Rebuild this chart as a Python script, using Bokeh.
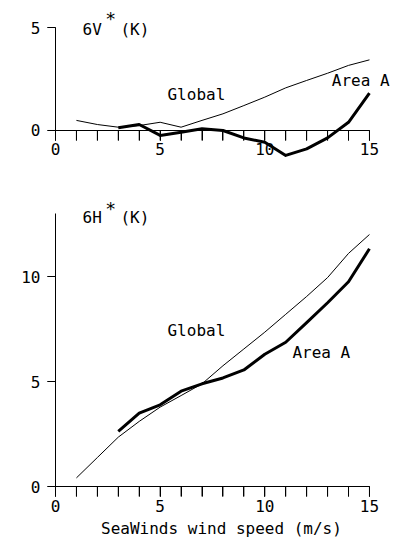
import math
from bokeh.plotting import figure
from bokeh.layouts import column
from bokeh.models import LinearAxis, FixedTicker, Range1d, Label
from bokeh.embed import file_html
from bokeh.resources import INLINE

# ---- data ----
speed_v_global = [1, 2, 3, 4, 5, 6, 7, 8, 9, 10, 11, 12, 13, 14, 15]
dv_global = [0.49, 0.29, 0.16, 0.24, 0.40, 0.16, 0.49, 0.81, 1.21, 1.62, 2.07, 2.43, 2.78, 3.16, 3.43]
speed_v_area = [3, 4, 5, 6, 7, 8, 9, 10, 11, 12, 13, 14, 15]
dv_area = [0.13, 0.29, -0.24, -0.08, 0.08, 0.0, -0.36, -0.57, -1.21, -0.89, -0.36, 0.40, 1.81]

speed_h_global = [1, 2, 3, 4, 5, 6, 7, 8, 9, 10, 11, 12, 13, 14, 15]
dh_global = [0.41, 1.38, 2.35, 3.10, 3.78, 4.33, 4.89, 5.75, 6.55, 7.35, 8.20, 9.05, 9.95, 11.10, 12.00]
speed_h_area = [3, 4, 5, 6, 7, 8, 9, 10, 11, 12, 13, 14, 15]
dh_area = [2.62, 3.49, 3.89, 4.54, 4.89, 5.17, 5.55, 6.30, 6.87, 7.80, 8.75, 9.75, 11.32]

x_major_ticks = [0, 5, 10, 15]
x_minor_ticks = list(range(0, 16))
v_ticks = [0, 5]
h_ticks = [0, 5, 10]

FONT = "DejaVu Sans Mono"
FS = "16px"


def make_fig(height, y_start, y_end, y_ticks, y_bound_top):
    p = figure(width=406, height=height, output_backend="svg", toolbar_location=None,
               x_range=Range1d(-2.628, 16.770), y_range=Range1d(y_start, y_end),
               x_axis_type=None, y_axis_type=None, min_border=0)
    p.outline_line_color = None
    p.xgrid.visible = False
    p.ygrid.visible = False
    p.background_fill_color = "white"
    p.border_fill_color = "white"

    xa = LinearAxis(ticker=FixedTicker(ticks=x_major_ticks, minor_ticks=x_minor_ticks))
    xa.fixed_location = 0
    xa.bounds = (0, 15)
    xa.axis_line_color = "black"
    xa.major_tick_in = 0
    xa.major_tick_out = 10
    xa.minor_tick_in = 0
    xa.minor_tick_out = 10
    xa.major_tick_line_color = "black"
    xa.minor_tick_line_color = "black"
    xa.major_label_text_font = FONT
    xa.major_label_text_font_size = FS
    xa.major_label_text_color = "black"
    xa.major_label_standoff = 3
    p.add_layout(xa, "below")

    ya = LinearAxis(ticker=FixedTicker(ticks=y_ticks, minor_ticks=[]))
    ya.fixed_location = 0
    ya.bounds = (0, y_bound_top)
    ya.axis_line_color = "black"
    ya.major_tick_in = 0
    ya.major_tick_out = 8
    ya.minor_tick_in = 0
    ya.minor_tick_out = 0
    ya.major_tick_line_color = "black"
    ya.major_label_text_font = FONT
    ya.major_label_text_font_size = FS
    ya.major_label_text_color = "black"
    ya.major_label_standoff = 7
    ya.major_label_orientation = "horizontal"
    p.add_layout(ya, "left")

    # tick marks (drawn explicitly at the tick values)
    p.ray(x=x_minor_ticks, y=[0] * len(x_minor_ticks), length=10, length_units="screen",
          angle=-math.pi / 2, line_color="black", line_width=1)
    p.ray(x=[0] * len(y_ticks), y=y_ticks, length=8, length_units="screen",
          angle=math.pi, line_color="black", line_width=1)
    return p


def add_text(p, x, y, text, size=FS, align="left"):
    p.add_layout(Label(x=x, y=y, text=text, text_font=FONT, text_font_size=size,
                       text_color="black", text_baseline="middle", text_align=align))


# ---- top panel: dV* ----
p1 = make_fig(170, -1.942, 6.311, v_ticks, 5)
p1.line(speed_v_global, dv_global, line_color="black", line_width=1, line_join="round")
p1.line(speed_v_area, dv_area, line_color="black", line_width=3, line_join="round")
add_text(p1, 1.29, 4.88, "6V")
add_text(p1, 2.38, 5.45, "*", size="18px")
add_text(p1, 3.1, 4.88, "(K)")
add_text(p1, 5.35, 1.75, "Global")
add_text(p1, 13.2, 2.43, "Area A")

# ---- bottom panel: dH* ----
p2 = make_fig(367, -2.4286, 15.048, h_ticks, 13)
p2.line(speed_h_global, dh_global, line_color="black", line_width=1, line_join="round")
p2.line(speed_h_area, dh_area, line_color="black", line_width=3, line_join="round")
add_text(p2, 1.29, 12.81, "6H")
add_text(p2, 2.38, 13.25, "*", size="18px")
add_text(p2, 3.1, 12.81, "(K)")
add_text(p2, 5.35, 7.43, "Global")
add_text(p2, 11.32, 6.38, "Area A")
add_text(p2, 7.93, -2.0, "SeaWinds wind speed (m/s)", align="center")

layout = column(p1, p2, spacing=0)
open("out.html", "w").write(file_html(layout, INLINE))
